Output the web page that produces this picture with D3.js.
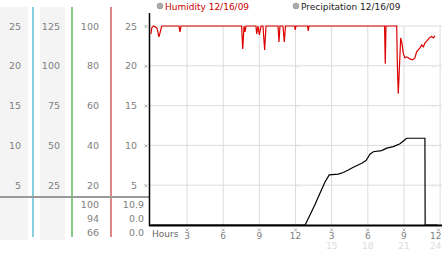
<!DOCTYPE html>
<html>
<head>
<meta charset="utf-8">
<script src="https://cdn.jsdelivr.net/npm/d3@7"></script>
<style>
  body { margin: 0; background: #fff; }
  svg { display: block; font-family: "DejaVu Sans", Verdana, sans-serif; }
</style>
</head>
<body>
<svg id="chart" width="442" height="253"></svg>
<script>
// side scales (one per column, mapped onto the same 0..25 grid)
const col1Ticks = [25, 20, 15, 10, 5];
const col2Ticks = [125, 100, 75, 50, 25];
const col3Ticks = [100, 80, 60, 40, 20];
const col4Ticks = [25, 20, 15, 10, 5];

// max / current / min readouts
const humidityStats = ["100", "94", "66"];
const precipStats = ["10.9", "0.0", "0.0"];

const hourTicks = [3, 6, 9, 12, 15, 18, 21, 24];
const hourLabels = ["3", "6", "9", "12", "3", "6", "9", "12"];
const hourLabels2 = ["", "", "", "", "15", "18", "21", "24"];

// [hour, humidity %]
const humidity = [
  [0, 96], [0.07, 99], [0.2, 100], [0.5, 99], [0.67, 94.5], [0.9, 100],
  [2.33, 100], [2.41, 97], [2.5, 100],
  [7.53, 100], [7.62, 88.5], [7.73, 100], [7.81, 97], [7.89, 100],
  [8.72, 100], [8.78, 96], [8.89, 100], [9.0, 95.5], [9.14, 100],
  [9.3, 100], [9.44, 88], [9.55, 100],
  [10.55, 100], [10.63, 92], [10.71, 100],
  [10.96, 100], [11.07, 92], [11.17, 100],
  [11.92, 100], [11.98, 98], [12.04, 100],
  [13.0, 100], [13.06, 97.5], [13.12, 100],
  [19.39, 100], [19.45, 81], [19.51, 100],
  [20.4, 100], [20.45, 81], [20.53, 66], [20.73, 94], [20.84, 91],
  [20.95, 86], [21.09, 84], [21.23, 84.5], [21.5, 83.5], [21.72, 83],
  [21.91, 84], [22.05, 87], [22.19, 88], [22.33, 89], [22.48, 90.5],
  [22.61, 89.5], [22.75, 91.5], [22.91, 92.5], [23.1, 94], [23.3, 94.7],
  [23.44, 94], [23.58, 95]
];

// [hour, precipitation]
const precipitation = [
  [0, 0], [12.8, 0], [13.2, 1.26], [13.6, 2.5], [14.03, 4.0], [14.45, 5.4],
  [14.8, 6.3], [15.55, 6.4], [15.97, 6.6], [16.38, 6.9], [16.8, 7.25],
  [17.5, 7.75], [17.85, 8.1], [18.18, 8.9], [18.46, 9.2], [19.15, 9.35],
  [19.57, 9.65], [20.12, 9.85], [20.67, 10.2], [21.08, 10.7], [21.2, 10.9],
  [22.74, 10.9], [22.76, 0], [23.8, 0]
];

const svg = d3.select('#chart');

const x = d3.scaleLinear().domain([0, 24]).range([150.9, 440.1]);
const y = d3.scaleLinear().domain([0, 25]).range([225, 26]);

// tiny tick glyph
const mark = 'M-1.5,-1.5L1.5,1.5M1.5,-1.5L-1.5,1.5';

// left panel
svg.append('rect').attr('x', 0).attr('y', 7).attr('width', 28).attr('height', 233).attr('fill', '#f4f4f4');
svg.append('rect').attr('x', 40).attr('y', 7).attr('width', 25).attr('height', 233).attr('fill', '#f4f4f4');

const dividers = [[33, '#3aaccc'], [72, '#3aaa3a'], [111, '#cc3333']];
svg.selectAll('.divider')
    .data(dividers)
    .enter()
    .append('line')
    .attr('class', 'divider')
    .attr('x1', d => d[0]).attr('x2', d => d[0])
    .attr('y1', 7).attr('y2', 237)
    .attr('stroke', d => d[1])
    .attr('stroke-width', 1.2);

svg.append('line')
    .attr('x1', 0).attr('x2', 149)
    .attr('y1', 197).attr('y2', 197)
    .attr('stroke', '#999').attr('stroke-width', 2);

const columns = [
    { ticks: col1Ticks, factor: 1, right: 21 },
    { ticks: col2Ticks, factor: 5, right: 60 },
    { ticks: col3Ticks, factor: 4, right: 99 },
    { ticks: col4Ticks, factor: 1, right: 137 }
];

columns.forEach(c => {
    svg.selectAll(null)
        .data(c.ticks)
        .enter()
        .append('text')
        .attr('x', c.right)
        .attr('y', d => y(d / c.factor) + 3.5)
        .attr('text-anchor', 'end')
        .attr('font-size', 9.5)
        .attr('fill', '#808080')
        .text(d => d);
});

const statRows = [204, 218, 232];
[[humidityStats, 99], [precipStats, 144]].forEach(([vals, right]) => {
    svg.selectAll(null)
        .data(vals)
        .enter()
        .append('text')
        .attr('x', right)
        .attr('y', (d, i) => statRows[i] + 3.5)
        .attr('text-anchor', 'end')
        .attr('font-size', 9.5)
        .attr('fill', '#808080')
        .text(d => d);
});

// grid
svg.selectAll('.hgrid')
    .data(col4Ticks)
    .enter()
    .append('line')
    .attr('class', 'hgrid')
    .attr('x1', 150).attr('x2', 442)
    .attr('y1', d => y(d)).attr('y2', d => y(d))
    .attr('stroke', '#dcdcdc');

svg.selectAll('.vgrid')
    .data(hourTicks)
    .enter()
    .append('line')
    .attr('class', 'vgrid')
    .attr('x1', d => x(d)).attr('x2', d => x(d))
    .attr('y1', y(25)).attr('y2', y(0))
    .attr('stroke', '#dcdcdc');

// faint marks inside the plot
[12, 23.3].forEach(h => {
    svg.selectAll(null)
        .data(col4Ticks.slice(1))
        .enter()
        .append('path')
        .attr('d', mark)
        .attr('transform', d => `translate(${x(h) + 2},${y(d) + 0.5})`)
        .attr('stroke', '#e2e2e2')
        .attr('stroke-width', 0.8);
});

// y marks beside the axis
svg.selectAll('.ymark')
    .data(col4Ticks)
    .enter()
    .append('path')
    .attr('class', 'ymark')
    .attr('d', mark)
    .attr('transform', d => `translate(146,${y(d) + 0.5})`)
    .attr('stroke', '#999')
    .attr('stroke-width', 0.8);

// lines
const line = d3.line().x(d => x(d[0]));

svg.append('path')
    .datum(humidity)
    .attr('d', line.y(d => y(d[1] / 4)))
    .attr('fill', 'none')
    .attr('stroke', '#dd0000')
    .attr('stroke-width', 1.2);

svg.append('path')
    .datum(precipitation)
    .attr('d', line.y(d => y(d[1])))
    .attr('fill', 'none')
    .attr('stroke', '#000')
    .attr('stroke-width', 1.2);

// axes
svg.append('line')
    .attr('x1', 149.5).attr('x2', 149.5)
    .attr('y1', 13).attr('y2', 226)
    .attr('stroke', '#000').attr('stroke-width', 1.5);

svg.append('line')
    .attr('x1', 149).attr('x2', 442)
    .attr('y1', 225.5).attr('y2', 225.5)
    .attr('stroke', '#000').attr('stroke-width', 2);

// x ticks (last one is pulled in so it stays on the page)
const labelX = (d, i) => i === hourTicks.length - 1 ? 441.5 : x(d);
const labelAnchor = (d, i) => i === hourTicks.length - 1 ? 'end' : 'middle';

svg.selectAll('.xmark')
    .data(hourTicks)
    .enter()
    .append('path')
    .attr('class', 'xmark')
    .attr('d', mark)
    .attr('transform', d => `translate(${Math.min(x(d), 438.5)},230)`)
    .attr('stroke', '#999')
    .attr('stroke-width', 0.8);

svg.selectAll('.xlabel')
    .data(hourTicks)
    .enter()
    .append('text')
    .attr('class', 'xlabel')
    .attr('x', labelX)
    .attr('y', 239)
    .attr('text-anchor', labelAnchor)
    .attr('font-size', 9)
    .attr('fill', '#808080')
    .text((d, i) => hourLabels[i]);

svg.selectAll('.xlabel2')
    .data(hourTicks)
    .enter()
    .append('text')
    .attr('class', 'xlabel2')
    .attr('x', labelX)
    .attr('y', 249)
    .attr('text-anchor', labelAnchor)
    .attr('font-size', 9)
    .attr('fill', '#dddddd')
    .text((d, i) => hourLabels2[i]);

svg.append('text')
    .attr('x', 152).attr('y', 237)
    .attr('font-size', 9)
    .attr('fill', '#666')
    .text('Hours');

// legend
const legend = [
    { label: 'Humidity 12/16/09', color: '#cc0000', x: 160 },
    { label: 'Precipitation 12/16/09', color: '#222', x: 296 }
];
const lg = svg.selectAll('.legend')
    .data(legend)
    .enter()
    .append('g')
    .attr('class', 'legend')
    .attr('transform', d => `translate(${d.x},6)`);
lg.append('circle').attr('r', 3).attr('fill', '#aaa').attr('stroke', '#888').attr('stroke-width', 0.5);
lg.append('text')
    .attr('x', 5).attr('y', 3.5)
    .attr('font-size', 9)
    .attr('fill', d => d.color)
    .text(d => d.label);
</script>
</body>
</html>
